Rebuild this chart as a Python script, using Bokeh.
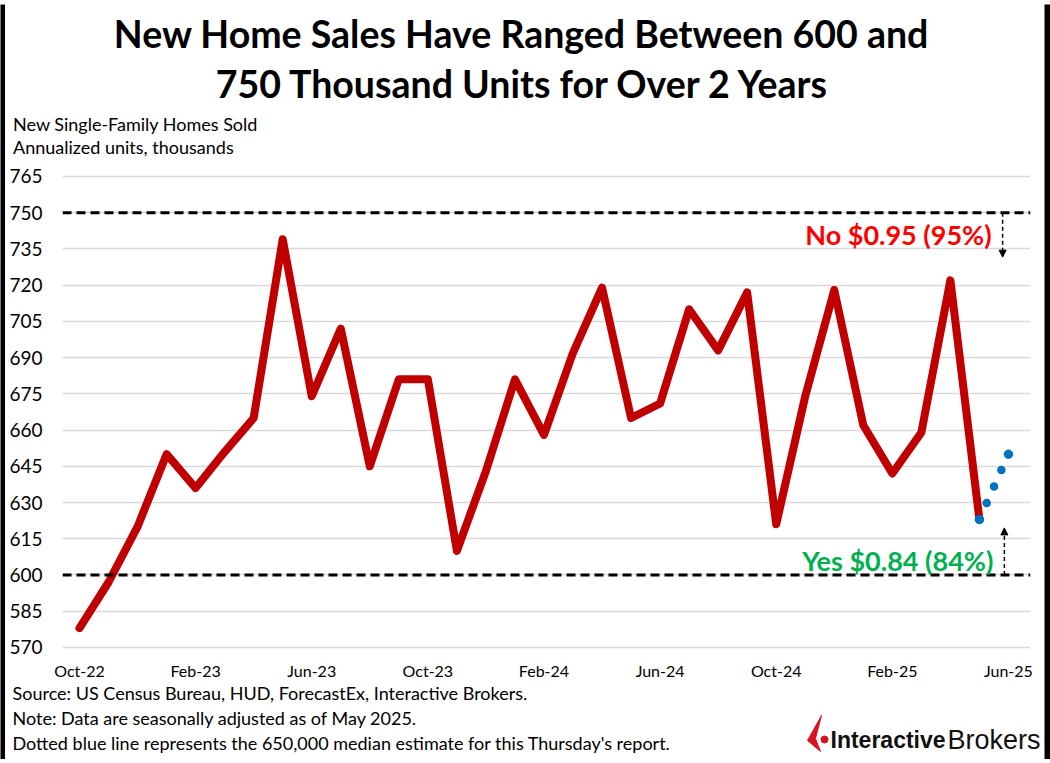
from bokeh.plotting import figure
from bokeh.layouts import column, row
from bokeh.models import (Range1d, FixedTicker, Span, Label, Arrow, NormalHead)
from bokeh.embed import file_html
from bokeh.resources import INLINE

# ---------------- data ----------------
months = ["Oct-22", "Nov-22", "Dec-22", "Jan-23", "Feb-23", "Mar-23", "Apr-23", "May-23",
          "Jun-23", "Jul-23", "Aug-23", "Sep-23", "Oct-23", "Nov-23", "Dec-23", "Jan-24",
          "Feb-24", "Mar-24", "Apr-24", "May-24", "Jun-24", "Jul-24", "Aug-24", "Sep-24",
          "Oct-24", "Nov-24", "Dec-24", "Jan-25", "Feb-25", "Mar-25", "Apr-25", "May-25"]
sales = [578, 597, 620, 650, 636, 651, 665, 739,
         674, 702, 645, 681, 681, 610, 643, 681,
         658, 692, 719, 665, 671, 710, 693, 717,
         621, 674, 718, 662, 642, 659, 722, 623]
forecast_months = ["May-25", "Jun-25"]
forecast_values = [623, 650]
tick_labels = ["Oct-22", "Feb-23", "Jun-23", "Oct-23", "Feb-24", "Jun-24",
               "Oct-24", "Feb-25", "Jun-25"]
y_ticks = [570, 585, 600, 615, 630, 645, 660, 675, 690, 705, 720, 735, 750, 765]
upper_band = 750
lower_band = 600
no_text = "No $0.95 (95%)"
yes_text = "Yes $0.84 (84%)"

title_lines = ["New Home Sales Have Ranged Between 600 and",
               "750 Thousand Units for Over 2 Years"]
subtitle_lines = ["New Single-Family Homes Sold", "Annualized units, thousands"]
notes = ["Source: US Census Bureau, HUD, ForecastEx, Interactive Brokers.",
         "Note: Data are seasonally adjusted as of May 2025.",
         "Dotted blue line represents the 650,000 median estimate for this Thursday's report."]

# ---------------- layout constants ----------------
FONT = "Lato"
BL, BT, BR, BB = 5, 4, 6, 4          # outer black frame
IW = 1050 - BL - BR                  # inner width
HEAD_H, MAIN_H, FOOT_H = 156, 522, 77

all_months = months + ["Jun-25"]
pos = {m: i for i, m in enumerate(all_months)}
xs = [pos[m] for m in months]
fx = [pos[m] for m in forecast_months]


def blank(w, h):
    f = figure(width=w, height=h, output_backend="svg", toolbar_location=None,
               x_range=Range1d(0, w), y_range=Range1d(h, 0),
               x_axis_location=None, y_axis_location=None,
               min_border=0, min_border_left=0, min_border_right=0,
               min_border_top=0, min_border_bottom=0)
    f.title = None
    f.frame_align = False
    f.outline_line_color = None
    f.grid.visible = False
    return f


def bar(w, h):
    f = blank(w, h)
    f.background_fill_color = "black"
    f.border_fill_color = "black"
    return f


def txt(f, x, y, text, size, bold=False, align="left", color="black", font=FONT):
    f.add_layout(Label(x=x, y=y, text=text, text_align=align,
                       text_baseline="middle", text_font=font,
                       text_font_size=size, text_color=color,
                       text_font_style="bold" if bold else "normal"))


# ---------------- header ----------------
head = blank(IW, HEAD_H)
txt(head, 516, 29, title_lines[0], "37.5px", bold=True, align="center")
txt(head, 518, 79, title_lines[1], "37.5px", bold=True, align="center")
txt(head, 7.5, 119, subtitle_lines[0], "18px")
txt(head, 7.5, 142, subtitle_lines[1], "18px")

# ---------------- main chart ----------------
p = figure(width=IW, height=MAIN_H, output_backend="svg", toolbar_location=None,
           x_range=Range1d(-0.586, 32.76), y_range=Range1d(566.67, 769.95),
           min_border_left=57, min_border_right=14, min_border_top=4,
           min_border_bottom=25)
p.outline_line_color = None

p.yaxis.ticker = FixedTicker(ticks=y_ticks)
p.xaxis.ticker = FixedTicker(ticks=[pos[t] for t in tick_labels])
p.xaxis.major_label_overrides = {pos[t]: t for t in tick_labels}
for ax in (p.xaxis, p.yaxis):
    ax.axis_line_color = None
    ax.major_tick_line_color = None
    ax.minor_tick_line_color = None
    ax.major_tick_in = 0
    ax.major_tick_out = 0
    ax.major_label_text_font = FONT
    ax.major_label_text_color = "black"
p.yaxis.major_label_text_font_size = "19px"
p.yaxis.major_label_standoff = 20
p.xaxis.major_label_text_font_size = "16px"
p.xaxis.major_label_standoff = 5

p.xgrid.grid_line_color = None
p.ygrid.ticker = FixedTicker(ticks=y_ticks)
p.ygrid.grid_line_color = "#D9D9D9"
p.ygrid.grid_line_width = 1.3

for v in (upper_band, lower_band):
    p.add_layout(Span(location=v, dimension="width", line_color="black",
                      line_width=3, line_dash="9 5"))

p.line(xs, sales, line_color="#C00000", line_width=8, line_join="round",
       line_cap="round")
p.line(fx, forecast_values, line_color="#0070C0", line_width=8.5,
       line_dash="0 18", line_cap="round")
p.scatter(fx, forecast_values, size=8.5, color="#0070C0")

p.add_layout(Label(x=31.42, y=741, text=no_text, text_align="right",
                   text_baseline="middle", text_font=FONT, text_font_style="bold",
                   text_font_size="27px", text_color="#FF0000"))
p.add_layout(Label(x=31.48, y=605.8, text=yes_text, text_align="right",
                   text_baseline="middle", text_font=FONT, text_font_style="bold",
                   text_font_size="27px", text_color="#00B050"))
p.add_layout(Arrow(x_start=31.8, y_start=upper_band, x_end=31.8, y_end=731.6,
                   line_color="black", line_width=1.5, line_dash="4 3",
                   end=NormalHead(size=7, fill_color="black", line_color="black")))
p.add_layout(Arrow(x_start=31.86, y_start=lower_band, x_end=31.86, y_end=619.5,
                   line_color="black", line_width=1.5, line_dash="4 3",
                   end=NormalHead(size=7, fill_color="black", line_color="black")))

# ---------------- footer ----------------
foot = blank(IW, FOOT_H)
for i, t in enumerate(notes):
    txt(foot, 7, 10 + 25 * i, t, "18px")
txt(foot, 825, 57.5, "Interactive", "23px", bold=True, color="#111111",
    font="Liberation Sans")
txt(foot, 942, 57.5, "Brokers", "27px", color="#111111", font="Liberation Sans")
foot.patch([802, 816, 810, 815], [58, 33, 56, 69], color="#D81222")
foot.scatter([819], [57], size=7, color="#D81222")

# ---------------- assemble with outer black frame ----------------
inner = column(head, p, foot, spacing=0)
mid = row(bar(BL, HEAD_H + MAIN_H + FOOT_H), inner, bar(BR, HEAD_H + MAIN_H + FOOT_H),
          spacing=0)
layout = column(bar(1050, BT), mid, bar(1050, BB), spacing=0)

open("out.html", "w").write(file_html(layout, INLINE))
